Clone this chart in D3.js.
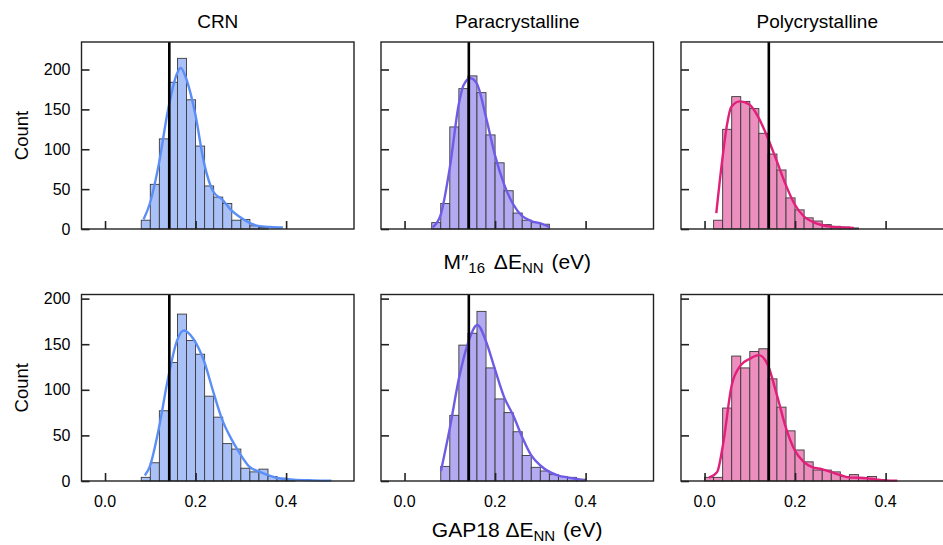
<!DOCTYPE html>
<html>
<head>
<meta charset="utf-8">
<script src="https://cdn.jsdelivr.net/npm/d3@7"></script>
<style>
  body { margin: 0; background: #fff; }
  svg { display: block; font-family: "Liberation Sans", Arial, sans-serif; }
</style>
</head>
<body>
<svg id="chart" width="943" height="545"></svg>
<script>
// ---- data ----
const structures = ["CRN", "Paracrystalline", "Polycrystalline"];
const models = ["M″16", "GAP18"];
const binWidth = 0.02;
const refEnergy = 0.142;           // black reference line (eV)
const xTicks = [0.0, 0.2, 0.4];
const yTicks = [0, 50, 100, 150, 200];
const xDomain = [-0.052, 0.55];
const yMaxRows = [234.5, 204.5];

// M''16 row
const crnM16Start = 0.08;
const crnM16Counts = [11, 56, 113, 184, 214, 162, 104, 54, 40, 32, 11, 12, 4, 2];
const crnM16KdeX = [0.085, 0.099, 0.119, 0.139, 0.159, 0.167, 0.179, 0.199, 0.219, 0.239, 0.259, 0.278, 0.298, 0.318, 0.338, 0.365, 0.393];
const crnM16KdeY = [12, 32, 82, 149, 195, 202, 189, 145, 82, 47, 37, 24, 15, 8, 4, 2.5, 1.8];

const paraM16Start = 0.06;
const paraM16Counts = [8, 32, 128, 176, 192, 171, 118, 83, 48, 20, 11, 8, 6];
const paraM16KdeX = [0.062, 0.08, 0.10, 0.12, 0.13, 0.1455, 0.16, 0.18, 0.20, 0.22, 0.24, 0.26, 0.28, 0.30, 0.32];
const paraM16KdeY = [2, 18, 77, 157, 180, 189, 182, 140, 92, 56, 31, 16, 10, 7, 2.5];

const polyM16Start = 0.02;
const polyM16Counts = [11, 125, 166, 160, 151, 120, 94, 74, 39, 24, 14, 10, 5.5, 3.4, 2.5, 1.3];
const polyM16KdeX = [0.026, 0.039, 0.05, 0.059, 0.078, 0.099, 0.119, 0.139, 0.159, 0.179, 0.199, 0.219, 0.239, 0.259, 0.279, 0.319, 0.33];
const polyM16KdeY = [20, 86, 132, 153, 160, 156, 140, 115, 86, 56, 31, 16, 9, 5, 3, 1.7, 1.3];

// GAP18 row
const crnGapStart = 0.08;
const crnGapCounts = [4, 20, 77, 130, 183, 154, 139, 93, 70, 41, 35, 14, 10, 13, 5, 3, 1];
const crnGapKdeX = [0.088, 0.099, 0.119, 0.139, 0.159, 0.174, 0.195, 0.219, 0.239, 0.259, 0.278, 0.298, 0.318, 0.342, 0.358, 0.378, 0.416, 0.46, 0.50];
const crnGapKdeY = [6, 16, 58, 112, 154, 165, 156, 131, 98, 67, 47, 30, 16, 10, 6.6, 3.6, 1.5, 0.7, 0.4];

const paraGapStart = 0.08;
const paraGapCounts = [16, 72, 149, 162, 186, 124, 90, 75, 54, 28, 15, 11, 7, 5, 4, 2];
const paraGapKdeX = [0.0805, 0.10, 0.12, 0.14, 0.161, 0.18, 0.20, 0.22, 0.24, 0.26, 0.28, 0.30, 0.32, 0.34, 0.36, 0.38, 0.396];
const paraGapKdeY = [11, 58, 112, 151, 171, 153, 122, 92, 72, 48, 28, 17, 10, 6, 4, 2.2, 0.7];

const polyGapStart = 0.0;
const polyGapCounts = [4, 4, 80, 137, 124, 142, 145, 112, 81, 55, 34, 21, 12, 12, 10, 5, 7, 4, 5, 1.5];
const polyGapKdeX = [0.0096, 0.028, 0.0405, 0.06, 0.08, 0.10, 0.12, 0.14, 0.16, 0.18, 0.199, 0.219, 0.239, 0.259, 0.279, 0.299, 0.319, 0.339, 0.359, 0.378, 0.398, 0.426];
const polyGapKdeY = [3.6, 10, 39, 105, 127, 134, 138, 127, 94, 58, 34, 21, 15, 13, 10, 6.6, 4, 3.6, 2.9, 1.8, 0.7, 0.4];

const lineColors = ["#5b8ff7", "#6e5ce6", "#e0207a"];
const barColors = ["#a9c1f6", "#b3aaf2", "#ec8fbe"];

const panels = [
  [crnM16Start, crnM16Counts, crnM16KdeX, crnM16KdeY],
  [paraM16Start, paraM16Counts, paraM16KdeX, paraM16KdeY],
  [polyM16Start, polyM16Counts, polyM16KdeX, polyM16KdeY],
  [crnGapStart, crnGapCounts, crnGapKdeX, crnGapKdeY],
  [paraGapStart, paraGapCounts, paraGapKdeX, paraGapKdeY],
  [polyGapStart, polyGapCounts, polyGapKdeX, polyGapKdeY]
].map(([start, counts, kx, ky], i) => ({
  row: Math.floor(i / 3),
  col: i % 3,
  bins: counts.map((c, j) => ({ x0: start + j * binWidth, x1: start + (j + 1) * binWidth, count: c })),
  kde: kx.map((x, j) => [x, ky[j]])
}));

// ---- layout ----
const svg = d3.select("#chart");
const colX = [81.5, 381, 681];
const panelW = 272.5;
const rowTop = [42, 294.5];
const rowBottom = [229, 481];
const tickLen = 8;

panels.forEach(p => {
  const x = d3.scaleLinear().domain(xDomain).range([colX[p.col], colX[p.col] + panelW]);
  const y = d3.scaleLinear().domain([0, yMaxRows[p.row]]).range([rowBottom[p.row], rowTop[p.row]]);
  const g = svg.append("g");

  // bars
  g.selectAll("rect.bar")
    .data(p.bins)
    .enter()
    .append("rect")
    .attr("class", "bar")
    .attr("x", d => x(d.x0))
    .attr("y", d => y(d.count))
    .attr("width", d => x(d.x1) - x(d.x0))
    .attr("height", d => y(0) - y(d.count))
    .attr("fill", barColors[p.col])
    .attr("stroke", "#3a3a3a")
    .attr("stroke-width", 0.9);

  // kde
  const line = d3.line()
    .x(d => x(d[0]))
    .y(d => y(d[1]))
    .curve(d3.curveMonotoneX);
  g.append("path")
    .datum(p.kde)
    .attr("d", line)
    .attr("fill", "none")
    .attr("stroke", lineColors[p.col])
    .attr("stroke-width", 2.4);

  // reference line
  g.append("line")
    .attr("x1", x(refEnergy)).attr("x2", x(refEnergy))
    .attr("y1", y.range()[0]).attr("y2", y.range()[1])
    .attr("stroke", "#000")
    .attr("stroke-width", 2.6);

  // inward ticks
  const xAxis = d3.axisTop(x).tickValues(xTicks).tickSize(tickLen).tickFormat("");
  g.append("g")
    .attr("transform", `translate(0,${y(0)})`)
    .call(xAxis)
    .call(a => a.select(".domain").remove())
    .call(a => a.selectAll("line").attr("stroke", "#222").attr("stroke-width", 1.6));

  const yAxis = d3.axisRight(y).tickValues(yTicks).tickSize(tickLen).tickFormat("");
  g.append("g")
    .attr("transform", `translate(${x.range()[0]},0)`)
    .call(yAxis)
    .call(a => a.select(".domain").remove())
    .call(a => a.selectAll("line").attr("stroke", "#222").attr("stroke-width", 1.6));

  // frame
  g.append("rect")
    .attr("x", x.range()[0])
    .attr("y", y.range()[1])
    .attr("width", panelW)
    .attr("height", y.range()[0] - y.range()[1])
    .attr("fill", "none")
    .attr("stroke", "#222")
    .attr("stroke-width", 1.4);

  // tick labels
  if (p.col === 0) {
    g.selectAll("text.ylab")
      .data(yTicks)
      .enter()
      .append("text")
      .attr("x", x.range()[0] - 11)
      .attr("y", d => y(d))
      .attr("dy", "0.35em")
      .attr("text-anchor", "end")
      .attr("font-size", 16)
      .text(d => d);
  }
  if (p.row === 1) {
    g.selectAll("text.xlab")
      .data(xTicks)
      .enter()
      .append("text")
      .attr("x", d => x(d))
      .attr("y", y(0) + 26)
      .attr("text-anchor", "middle")
      .attr("font-size", 16)
      .text(d => d.toFixed(1));
  }
});

// column titles
structures.forEach((s, i) => {
  svg.append("text")
    .attr("x", colX[i] + panelW / 2)
    .attr("y", 28)
    .attr("text-anchor", "middle")
    .attr("font-size", 19)
    .text(s);
});

// y labels
rowTop.forEach((t, r) => {
  const cy = (t + rowBottom[r]) / 2;
  svg.append("text")
    .attr("transform", `translate(28,${cy}) rotate(-90)`)
    .attr("text-anchor", "middle")
    .attr("font-size", 18.5)
    .text("Count");
});

// x labels with subscripts
function xLabel(model, yPos) {
  const t = svg.append("text")
    .attr("x", colX[1] + panelW / 2)
    .attr("y", yPos)
    .attr("text-anchor", "middle")
    .attr("font-size", 21);
  if (model === "M″16") {
    t.append("tspan").text("M″");
    t.append("tspan").attr("dy", 4).attr("font-size", 15).text("16");
    t.append("tspan").attr("dy", -4).attr("dx", 3).text(" ΔE");
  } else {
    t.append("tspan").text(model + " ΔE");
  }
  t.append("tspan").attr("dy", 4).attr("font-size", 15).text("NN");
  t.append("tspan").attr("dy", -4).attr("dx", 2).text(" (eV)");
}
xLabel(models[0], 269);
xLabel(models[1], 537);
</script>
</body>
</html>
